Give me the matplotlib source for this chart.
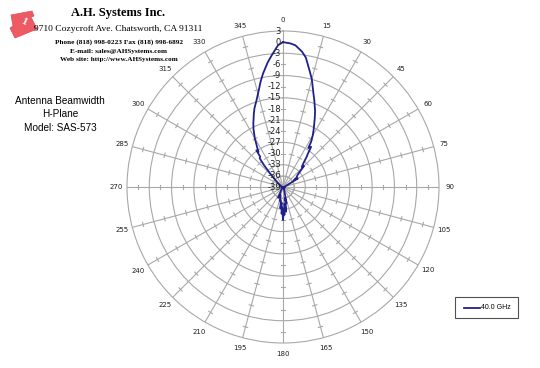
import matplotlib
matplotlib.use("Agg")
import matplotlib.pyplot as plt
import numpy as np
from matplotlib.patches import Polygon, Rectangle
from matplotlib.lines import Line2D

# measured H-plane pattern, 40.0 GHz (angle in degrees, level in dB)
angles = [0, 3, 5, 8, 10, 13, 15, 18, 20, 23, 25, 28, 30, 32, 33, 35, 37, 38,
          40, 43, 45, 48, 50, 55, 58, 60, 62, 65, 70, 80, 90, 100, 110, 120,
          130, 140, 150, 160, 165, 168, 170, 172, 173, 175, 177, 178, 180, 182,
          183, 185, 187, 190, 193, 195, 200, 204, 207, 210, 220, 230, 240, 250,
          260, 270, 280, 290, 300, 305, 310, 314, 317, 319, 321, 323, 324, 325,
          327, 330, 333, 335, 338, 340, 343, 345, 348, 350, 353, 355, 358]
levels = [0.0, -0.3, -0.7, -2.2, -3.6, -7.0, -9.0, -12.5, -14.3, -16.9, -18.8,
          -21.4, -23.0, -24.8, -26.5, -25.8, -28.0, -28.6, -30.2, -31.6, -31.0,
          -33.0, -33.8, -34.6, -35.5, -34.4, -36.5, -37.5, -38.2, -38.6, -38.8,
          -38.5, -38.8, -38.6, -38.9, -38.4, -38.7, -38.0, -37.0, -34.5, -36.0,
          -33.0, -32.3, -34.5, -31.5, -33.0, -30.1, -33.5, -31.8, -34.8, -33.2,
          -35.5, -35.2, -36.5, -36.8, -35.8, -37.5, -38.2, -38.6, -38.8, -38.5,
          -38.9, -38.6, -38.8, -38.7, -38.5, -38.2, -37.6, -36.8, -35.5, -33.5,
          -31.2, -29.0, -28.8, -26.8, -27.5, -26.2, -23.8, -21.5, -20.1, -18.0,
          -16.5, -14.6, -13.0, -10.0, -8.0, -5.2, -3.5, -0.8]

grid_levels = [-33, -27, -21, -15, -9, -3]
tick_levels = [-36, -30, -24, -18, -12, -6, 0]
label_levels = list(range(3, -40, -3))
spoke_angles = list(range(0, 360, 15))

W, H = 540, 368
fig = plt.figure(figsize=(W / 100, H / 100), dpi=100)
fig.patch.set_facecolor("white")

cx, cy, R = 283, 187, 156
ax = fig.add_axes([(cx - R) / W, (H - cy - R) / H, 2 * R / W, 2 * R / H],
                  projection="polar")
ax.set_theta_zero_location("N")
ax.set_theta_direction(-1)
ax.set_rlim(-39, 3)
ax.set_rticks(grid_levels)
ax.set_yticklabels([])
ax.set_thetagrids(spoke_angles, labels=[""] * len(spoke_angles))
ax.grid(True, color="#a8a8a8", linewidth=0.8)
ax.spines["polar"].set_color("#a8a8a8")
ax.spines["polar"].set_linewidth(0.8)
ax.tick_params(length=0)

# small cross ticks on spokes
px_per_db = R / 42.0
for a in spoke_angles:
    for t in tick_levels:
        rp = (t + 39) * px_per_db
        half = 2.2 / rp
        th = np.radians(a)
        ax.plot([th - half, th + half], [t, t], color="#a8a8a8", lw=0.8)

# angle labels
for a in spoke_angles:
    ax.text(np.radians(a), 3 + 11 / px_per_db, str(a), ha="center",
            va="center", fontsize=5, color="#202020", clip_on=False)

# radial labels
for v in label_levels:
    ax.annotate(str(v), xy=(0, v), xytext=(-1.5, 0), textcoords="offset points",
                ha="right", va="center", fontsize=6, color="#202020")

th = np.radians(angles + [angles[0]])
rr = levels + [levels[0]]
ax.plot(th, rr, color="#20208c", lw=1.3)


def fx(x):
    return x / W


def fy(y):
    return 1 - y / H


# header
fig.text(fx(118), fy(13), "A.H. Systems Inc.", family="Liberation Serif",
         fontsize=9, weight="bold", ha="center", va="center")
fig.text(fx(118), fy(29), "9710 Cozycroft Ave. Chatsworth, CA 91311",
         family="Liberation Serif", fontsize=6.8, ha="center", va="center")
fig.text(fx(119), fy(42), "Phone (818) 998-0223 Fax (818) 998-6892",
         family="Liberation Serif", fontsize=5.2, weight="bold",
         ha="center", va="center")
fig.text(fx(119), fy(51), "E-mail: sales@AHSystems.com",
         family="Liberation Serif", fontsize=5.2, weight="bold",
         ha="center", va="center")
fig.text(fx(119), fy(60), "Web site: http://www.AHSystems.com",
         family="Liberation Serif", fontsize=5.2, weight="bold",
         ha="center", va="center")

# logo
logo = [(11, 15), (32, 11), (34, 16), (31, 17), (37, 29), (15, 38), (10, 28),
        (13, 26)]
fig.patches.append(Polygon([(fx(x), fy(y)) for x, y in logo], closed=True,
                           transform=fig.transFigure, facecolor="#ee5a64",
                           edgecolor="#e04a55", lw=0.5))
fig.text(fx(24), fy(22), "1", family="Liberation Serif", fontsize=8,
         weight="bold", color="white", rotation=-25, ha="center", va="center")

# title block on left
fig.text(fx(60), fy(101), "Antenna Beamwidth", family="Liberation Sans",
         fontsize=7.2, ha="center", va="center")
fig.text(fx(60), fy(114), "H-Plane", family="Liberation Sans",
         fontsize=7.2, ha="center", va="center")
fig.text(fx(60), fy(128), "Model: SAS-573", family="Liberation Sans",
         fontsize=7.2, ha="center", va="center")

# legend
fig.patches.append(Rectangle((fx(455), fy(318)), fx(63), 21 / H,
                             transform=fig.transFigure, facecolor="white",
                             edgecolor="#505050", lw=0.8))
fig.lines.append(Line2D([fx(464), fx(480)], [fy(307.5), fy(307.5)],
                        transform=fig.transFigure, color="#20208c", lw=1.3))
fig.text(fx(481), fy(307.5), "40.0 GHz", family="Liberation Sans",
         fontsize=5, ha="left", va="center")

fig.savefig("out.png", dpi=100)
